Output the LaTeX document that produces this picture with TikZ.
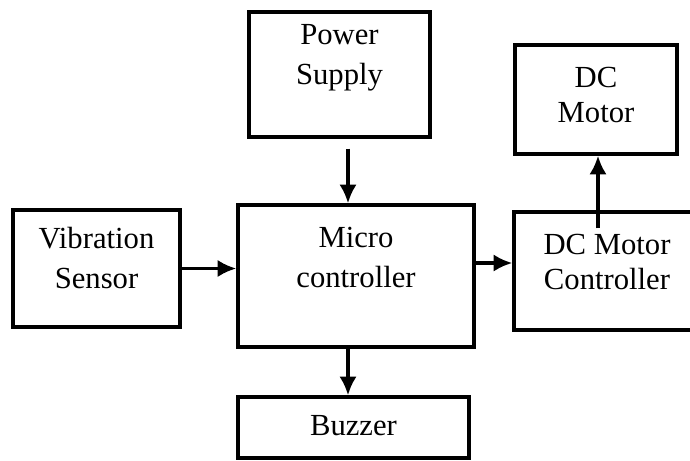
\documentclass[tikz,border=0pt]{standalone}
\usepackage{fontspec}
\setmainfont{Liberation Serif}
\usetikzlibrary{arrows.meta,positioning,calc}

\begin{document}
\begin{tikzpicture}[
    x=0.75pt, y=-0.75pt,
    font=\fontsize{23}{30}\selectfont,
    box/.style={draw, line width=2.6pt, inner sep=0pt},
    lbl/.style={align=center, inner sep=0pt},
    arrow/.style={-{Latex[length=14pt,width=13pt]}, line width=2.6pt}
  ]
    \clip (0,0) rectangle (690,461);
    % blocks
    \node[box, minimum width=135.75pt, minimum height=93.75pt] (power) at (339.5,74.5) {};
    \node[box, minimum width=121.5pt, minimum height=81.75pt] (motor) at (596,99.5) {};
    \node[box, minimum width=125.25pt, minimum height=87.75pt] (sensor) at (96.5,268.5) {};
    \node[box, minimum width=177pt, minimum height=106.5pt] (micro) at (356,276) {};
    \node[box, minimum width=139.5pt, minimum height=88.5pt] (driver) at (607,271) {};
    \node[box, minimum width=173.25pt, minimum height=45.75pt] (buzzer) at (353.5,427.5) {};
    % texts
    \node[lbl] (power-txt) at (339.5,58) {Power\\Supply};
    \node[lbl, font=\fontsize{23}{26}\selectfont] (motor-txt) at (596,95) {DC\\Motor};
    \node[lbl] (sensor-txt) at (96.5,258) {Vibration\\Sensor};
    \node[lbl] (micro-txt) at (356,257) {Micro\\controller};
    \node[lbl, font=\fontsize{23}{26}\selectfont] (driver-txt) at (607,262) {DC Motor\\Controller};
    \node[lbl] (buzzer-txt) at (353.5,426) {Buzzer};
    % links
    \coordinate (ps-out) at ($(power.south)+(8.5,10)$);
    \draw[arrow] (ps-out) -- (ps-out |- micro.north);
    \draw[arrow] (sensor.east) -- (sensor.east -| micro.west);
    \coordinate (mc-out) at ($(micro.east)+(0,-13)$);
    \draw[arrow] (mc-out) -- (mc-out -| driver.west);
    \coordinate (dr-out) at ($(driver.north)+(-9,18)$);
    \draw[arrow] (dr-out) -- (dr-out |- motor.south);
    \coordinate (mc-down) at ($(micro.south)+(-8,0)$);
    \draw[arrow] (mc-down) -- (mc-down |- buzzer.north);
  \end{tikzpicture}
\end{document}
